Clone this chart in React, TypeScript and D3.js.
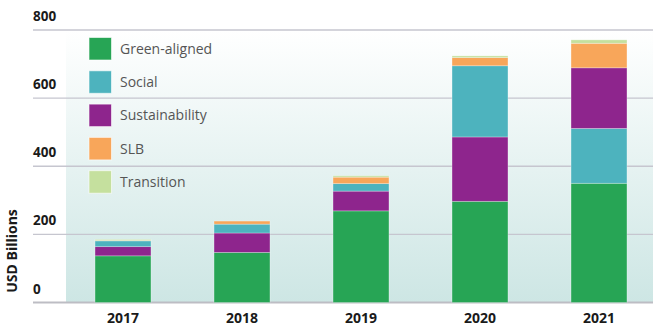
import React from "react";
import * as d3 from "d3";

const years = ["2017", "2018", "2019", "2020", "2021"];
const seriesNames = ["Green-aligned", "Social", "Sustainability", "SLB", "Transition"];
const seriesColors = ["#27a555", "#4db3be", "#8e258d", "#f8a65a", "#c5e09e"];
const greenAligned = [137, 147, 269, 297, 350];
const social = [17, 26, 22, 209, 161];
const sustainability = [27, 57, 58, 189, 178];
const slb = [1, 9, 19, 24, 72];
const transition = [3, 0, 4, 5, 10];
// stacking order (bottom to top) per year
const stackOrders = [
  ["Green-aligned", "Sustainability", "Social", "SLB", "Transition"],
  ["Green-aligned", "Sustainability", "Social", "SLB", "Transition"],
  ["Green-aligned", "Sustainability", "Social", "SLB", "Transition"],
  ["Green-aligned", "Sustainability", "Social", "SLB", "Transition"],
  ["Green-aligned", "Social", "Sustainability", "SLB", "Transition"],
];
const yTicks = [0, 200, 400, 600, 800];

const W = 658;
const H = 327;

export default function App() {
  const values: Record<string, number[]> = {
    "Green-aligned": greenAligned,
    Social: social,
    Sustainability: sustainability,
    SLB: slb,
    Transition: transition,
  };
  const color = d3.scaleOrdinal<string, string>().domain(seriesNames).range(seriesColors);
  const y = d3.scaleLinear().domain([0, 800]).range([302.5, 30]);
  const x = d3
    .scaleBand<string>()
    .domain(years)
    .range([63.5, 658.5])
    .paddingInner(0.53)
    .paddingOuter(0.265);

  const segs: { key: string; year: string; y0: number; y1: number }[] = [];
  years.forEach((yr, i) => {
    let acc = 0;
    stackOrders[i].forEach((s) => {
      const v = values[s][i];
      segs.push({ key: s, year: yr, y0: acc, y1: acc + v });
      acc += v;
    });
  });

  const font = "'Open Sans', 'Noto Sans', sans-serif";

  return (
    <svg
      width={W}
      height={H}
      style={{ position: "absolute", left: 0, top: 0, fontFamily: font }}
    >
      <defs>
        <linearGradient id="bg" x1="0" y1="0" x2="0" y2="1">
          <stop offset="0" stopColor="#ffffff" />
          <stop offset="1" stopColor="#cde6e4" />
        </linearGradient>
      </defs>
      <rect x={0} y={0} width={W} height={H} fill="#ffffff" />
      <rect x={66} y={y(800)} width={653 - 66} height={y(0) - y(800)} fill="url(#bg)" />
      {yTicks.map((t) => (
        <g key={t}>
          <line
            x1={33}
            x2={653}
            y1={y(t)}
            y2={y(t)}
            stroke={t === 0 ? "#bdbdc4" : "#c6c6cf"}
            strokeWidth={t === 0 ? 2 : 1.3}
          />
          <text x={33} y={y(t) - 9} fontSize={13.5} fontWeight={700} fill="#1a1a1a">
            {t}
          </text>
        </g>
      ))}
      {segs.map((s, i) =>
        s.y1 - s.y0 > 0 ? (
          <rect
            key={i}
            x={x(s.year)}
            width={x.bandwidth()}
            y={y(s.y1)}
            height={y(s.y0) - y(s.y1)}
            fill={color(s.key)}
            stroke="rgba(255,255,255,0.35)"
            strokeWidth={0.8}
          />
        ) : null
      )}
      {years.map((yr) => (
        <text
          key={yr}
          x={(x(yr) as number) + x.bandwidth() / 2}
          y={323}
          textAnchor="middle"
          fontSize={14}
          fontWeight={700}
          fill="#1a1a1a"
        >
          {yr}
        </text>
      ))}
      <text
        transform="translate(17,251) rotate(-90)"
        textAnchor="middle"
        fontSize={14}
        fontWeight={700}
        fill="#1a1a1a"
      >
        USD Billions
      </text>
      {seriesNames.map((s, i) => (
        <g key={s} transform={`translate(89,${37.5 + i * 33.3})`}>
          <rect
            width={22.5}
            height={22.5}
            fill={color(s)}
            stroke="rgba(255,255,255,0.6)"
            strokeWidth={1}
          />
          <text x={31} y={11.5} dy="0.35em" fontSize={14} fill="#555555" fontWeight={400}>
            {s}
          </text>
        </g>
      ))}
    </svg>
  );
}
